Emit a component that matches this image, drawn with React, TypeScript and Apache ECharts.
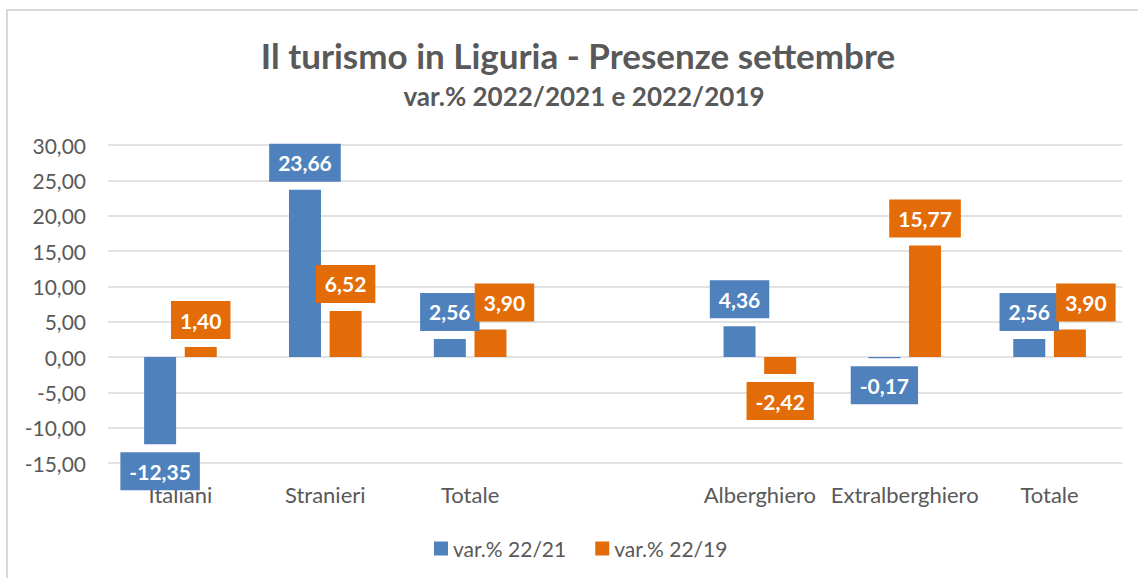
import React, { useEffect, useRef } from "react";
import * as echarts from "echarts";

const categories = ["Italiani", "Stranieri", "Totale", "", "Alberghiero", "Extralberghiero", "Totale"];
const seriesNames = ["var.% 22/21", "var.% 22/19"];
const var2221 = [-12.35, 23.66, 2.56, null, 4.36, -0.17, 2.56];
const var2219 = [1.4, 6.52, 3.9, null, -2.42, 15.77, 3.9];
const titleText = "Il turismo in Liguria - Presenze settembre";
const subtitleText = "var.% 2022/2021 e 2022/2019";

const BLUE = "#4F81BD";
const ORANGE = "#E36C09";
const GRAY = "#595959";
const FONT = "Lato, 'Noto Sans', sans-serif";

const fmt = (v: number) => v.toFixed(2).replace(".", ",");

function buildData(values: (number | null)[], shifts: Record<number, number>) {
  return values.map((v, i) => {
    if (v === null) return null;
    return {
      value: v,
      label: {
        position: v < 0 ? "bottom" : "top",
        offset: [shifts[i] || 0, 0],
      },
    };
  });
}

export default function App() {
  const ref = useRef<HTMLDivElement>(null);
  useEffect(() => {
    if (!ref.current) return;
    const chart = echarts.init(ref.current, null, { renderer: "svg" });
    const labelBase = (color: string) => ({
      show: true,
      distance: 8,
      formatter: (p: any) => fmt(p.value),
      color: "#fff",
      fontFamily: FONT,
      fontWeight: "bold",
      fontSize: 21,
      lineHeight: 22,
      backgroundColor: color,
      padding: [8, 9, 8, 9],
    });
    chart.setOption({
      animation: false,
      backgroundColor: "#fff",
      graphic: [
        {
          type: "rect",
          shape: { x: 7, y: 10, width: 1300, height: 700 },
          style: { fill: "none", stroke: "#d9d9d9", lineWidth: 2 },
          silent: true,
        },
        {
          type: "text",
          x: 578,
          y: 55,
          style: {
            text: titleText,
            align: "center",
            verticalAlign: "middle",
            fill: GRAY,
            fontFamily: FONT,
            fontWeight: "bold",
            fontSize: 35,
          },
        },
        {
          type: "text",
          x: 584,
          y: 96,
          style: {
            text: subtitleText,
            align: "center",
            verticalAlign: "middle",
            fill: GRAY,
            fontFamily: FONT,
            fontWeight: "bold",
            fontSize: 26,
          },
        },
      ],
      legend: {
        data: seriesNames,
        left: 434,
        top: 538,
        padding: 0,
        itemWidth: 14,
        itemHeight: 14,
        itemGap: 29,
        icon: "rect",
        textStyle: { color: GRAY, fontSize: 21, fontFamily: FONT, padding: 0 },
      },
      grid: { left: 108, right: 16, top: 145, bottom: 578 - 463, containLabel: false },
      xAxis: {
        type: "category",
        data: categories,
        axisLine: { show: false, onZero: false },
        axisTick: { show: false },
        axisLabel: { color: GRAY, fontSize: 22, fontFamily: FONT, margin: 20, interval: 0 },
        splitLine: { show: false },
      },
      yAxis: {
        type: "value",
        min: -15,
        max: 30,
        interval: 5,
        axisLine: { show: false },
        axisTick: { show: false },
        axisLabel: {
          color: GRAY,
          fontSize: 21,
          fontFamily: FONT,
          margin: 22,
          formatter: (v: number) => fmt(v),
        },
        splitLine: { lineStyle: { color: "#d9d9d9", width: 1.5 } },
      },
      series: [
        {
          name: seriesNames[0],
          type: "bar",
          barWidth: 32,
          barGap: "27%",
          itemStyle: { color: BLUE },
          label: labelBase(BLUE),
          data: buildData(var2221, {}),
        },
        {
          name: seriesNames[1],
          type: "bar",
          barWidth: 32,
          barGap: "27%",
          itemStyle: { color: ORANGE },
          label: labelBase(ORANGE),
          data: buildData(var2219, { 2: 14, 6: 16 }),
        },
      ],
    });
    return () => chart.dispose();
  }, []);
  return (
    <div
      ref={ref}
      style={{ position: "fixed", left: 0, top: 0, width: 1138, height: 578 }}
    />
  );
}
